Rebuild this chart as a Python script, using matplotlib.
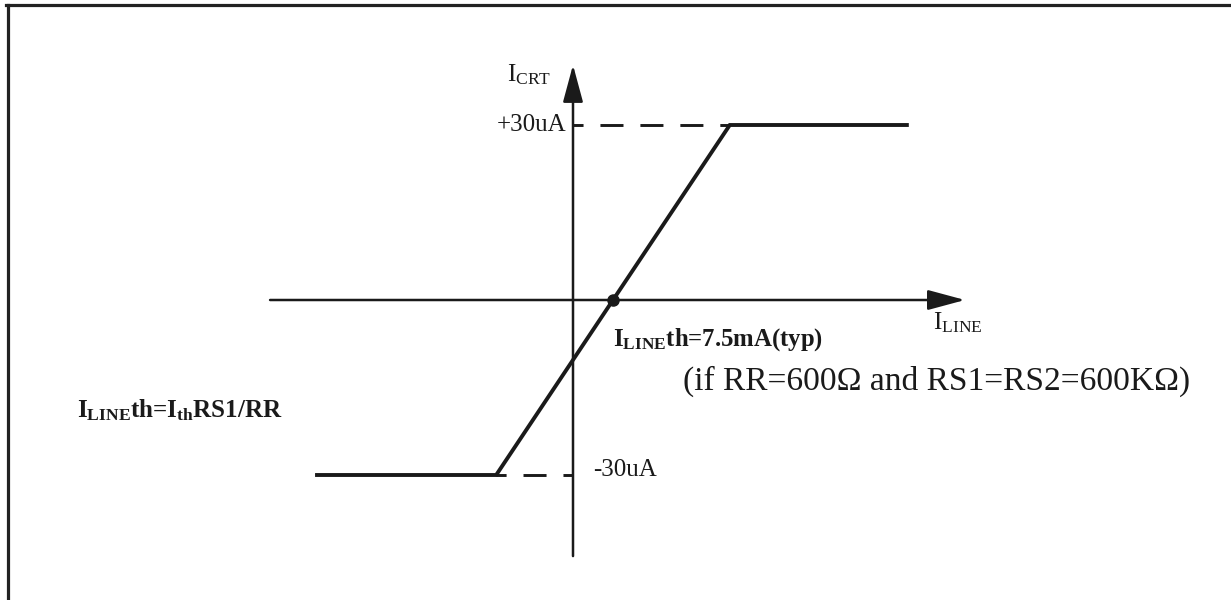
import matplotlib
matplotlib.use("Agg")
import matplotlib.pyplot as plt

plt.rcParams["font.family"] = ["Liberation Serif", "DejaVu Serif"]
plt.rcParams["mathtext.fontset"] = "custom"
plt.rcParams["mathtext.rm"] = "Liberation Serif"
plt.rcParams["mathtext.bf"] = "Liberation Serif:bold"
plt.rcParams["mathtext.it"] = "Liberation Serif:italic"

# transfer curve: I_CRT (uA) against I_LINE (mA)
i_line_ma = [-48.0, -14.4, 29.4, 62.6]
i_crt_ua = [-30.0, -30.0, 30.0, 30.0]
threshold_ma = 7.5
sat_ua = 30.0

# axis extents
x_axis = (-56.8, 73.5)
y_axis = (-43.9, 40.3)

# scale: pixels per unit, origin in pixels
W, H = 1231, 600
sx = 40 / 7.5
sy = 175 / 30.0
ox, oy = 573, 300

fig = plt.figure(figsize=(W / 100, H / 100), dpi=100)
ax = fig.add_axes([0, 0, 1, 1])
ax.set_xlim(-ox / sx, (W - ox) / sx)
ax.set_ylim(-(H - oy) / sy, oy / sy)
ax.axis("off")

def px(x, y):
    # pixel position in the picture -> data coordinates
    return (x - ox) / sx, (oy - y) / sy

ink = "#1a1a1a"

# frame (top and left edge only)
fig.add_artist(plt.Line2D([6 / W, 1], [1 - 4.5 / H, 1 - 4.5 / H], color="#222222", lw=2.3))
fig.add_artist(plt.Line2D([7.5 / W, 7.5 / W], [0, 1 - 4.5 / H], color="#222222", lw=2.3))

# axes with arrow heads
arrow = dict(arrowstyle="-|>,head_length=2.3,head_width=0.62", mutation_scale=10,
             lw=1.8, color=ink, shrinkA=0, shrinkB=0)
ax.annotate("", xy=(x_axis[1], 0), xytext=(x_axis[0], 0), arrowprops=arrow)
ax.annotate("", xy=(0, y_axis[1]), xytext=(0, y_axis[0]), arrowprops=arrow)

# dashed saturation guides, dashes start at the vertical axis
dash = (4.46, (7.9, 5.8))
ax.plot([0, i_line_ma[2]], [sat_ua, sat_ua], ls=dash, color=ink, lw=2.1)
ax.plot([0, i_line_ma[1]], [-sat_ua, -sat_ua], ls=dash, color=ink, lw=2.1)

# curve
ax.plot(i_line_ma, i_crt_ua, color=ink, lw=2.8, solid_joinstyle="miter")
ax.plot([threshold_ma], [0], "o", color=ink, ms=8)

# labels
ax.text(*px(507, 75), r"$\mathrm{I_{CRT}}$", fontsize=18, ha="left", va="center", color=ink)
ax.text(*px(566, 125), "+30uA", fontsize=18, ha="right", va="center", color=ink)
ax.text(*px(593, 470), "-30uA", fontsize=18, ha="left", va="center", color=ink)
ax.text(*px(933, 323), r"$\mathrm{I_{LINE}}$", fontsize=18, ha="left", va="center", color=ink)
ax.text(*px(613, 340), r"$\mathbf{I_{LINE}}$th=7.5mA(typ)", fontsize=17.8, fontweight="bold",
        ha="left", va="center", color=ink)
ax.text(*px(683, 381), "(if RR=600\u03a9 and RS1=RS2=600K\u03a9)", fontsize=24.1,
        ha="left", va="center", color=ink)
ax.text(*px(77, 410), r"$\mathbf{I_{LINE}}$th=$\mathbf{I_{th}}$RS1/RR", fontsize=18,
        fontweight="bold", ha="left", va="center", color=ink)

fig.savefig("out.png", dpi=100)
